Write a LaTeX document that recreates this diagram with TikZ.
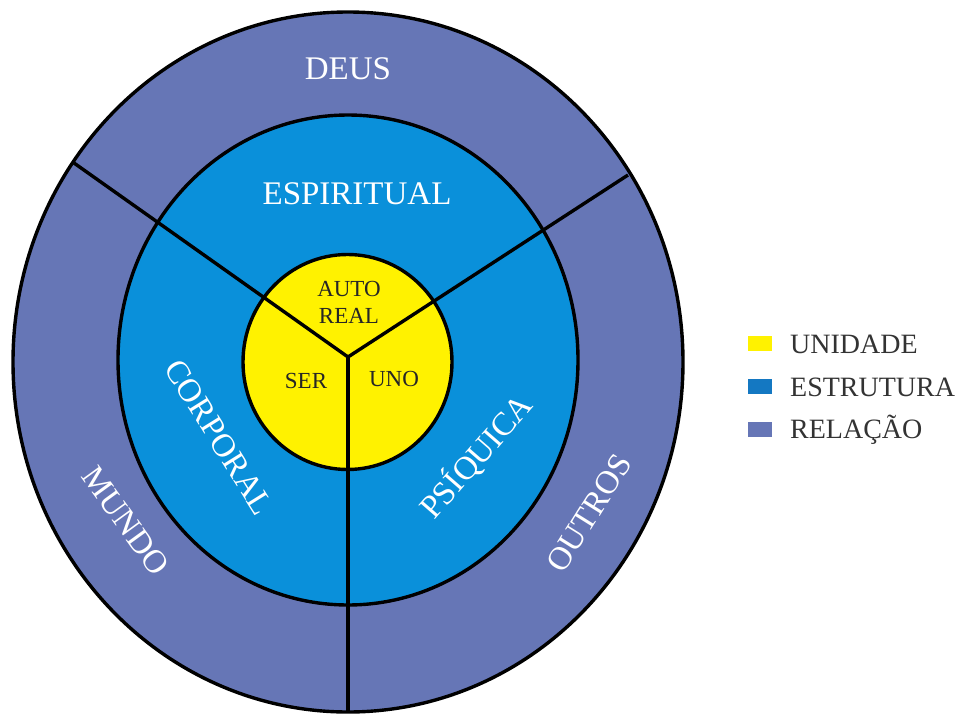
\documentclass[tikz,border=0pt]{standalone}
\usepackage{fontspec}
\setmainfont{Liberation Serif}
\definecolor{relc}{HTML}{6676B6}
\definecolor{estc}{HTML}{0A90DA}
\definecolor{estleg}{HTML}{1478C2}
\definecolor{unic}{HTML}{FFF200}
\definecolor{legtext}{HTML}{333333}
\begin{document}
\begin{tikzpicture}[x=1pt,y=-1pt,
  ring/.style={draw=black,line width=3.4pt},
  divider/.style={draw=black,line width=3.4pt},
  bigtext/.style={text=white,font=\fontsize{33}{36}\selectfont,inner sep=0pt},
  coretext/.style={text=black!85,font=\fontsize{23}{27}\selectfont,inner sep=0pt,align=center},
  legbox/.style={draw=none,minimum width=24pt,minimum height=15pt,inner sep=0pt},
  legtxt/.style={text=legtext,font=\fontsize{28}{30}\selectfont,anchor=west,inner sep=0pt}]
\useasboundingbox (0,0) rectangle (956,715);
% fills
\fill[relc] (348,362) ellipse[x radius=335pt,y radius=350pt];
\fill[estc] (348,360) ellipse[x radius=230pt,y radius=245pt];
\fill[unic] (347.5,362) ellipse[x radius=104.5pt,y radius=107.5pt];
% divider coordinates
\coordinate (c) at (348,357);
\coordinate (ul) at (74,163);
\coordinate (ur) at (628,175);
\coordinate (dn) at (348,712);
\draw[divider] (c) -- (ul);
\draw[divider] (c) -- (ur);
\draw[divider] (c) -- (dn);
% outlines
\draw[ring] (348,362) ellipse[x radius=335pt,y radius=350pt];
\draw[ring] (348,360) ellipse[x radius=230pt,y radius=245pt];
\draw[ring] (347.5,362) ellipse[x radius=104.5pt,y radius=107.5pt];
% labels
\node[bigtext] (deus) at (348,69) {DEUS};
\node[bigtext] (esp) at (357,194) {ESPIRITUAL};
\node[bigtext,rotate=-58] (corp) at (219,437) {CORPORAL};
\node[bigtext,rotate=49] (psi) at (476,456) {PSÍQUICA};
\node[bigtext,rotate=-54] (mundo) at (126,521) {MUNDO};
\node[bigtext,rotate=58] (outros) at (589,513) {OUTROS};
\node[coretext] (auto) at (349,302) {AUTO\\REAL};
\node[coretext] (ser) at (306,381) {SER};
\node[coretext] (uno) at (394,379) {UNO};
% legend
\node[legbox,fill=unic] (b1) at (760,343) {};
\node[legbox,fill=estleg] (b2) at (760,386) {};
\node[legbox,fill=relc] (b3) at (760,429) {};
\node[legtxt] (t1) at (790,344) {UNIDADE};
\node[legtxt] (t2) at (790,387) {ESTRUTURA};
\node[legtxt] (t3) at (790,430) {RELAÇÃO};
\end{tikzpicture}
\end{document}
